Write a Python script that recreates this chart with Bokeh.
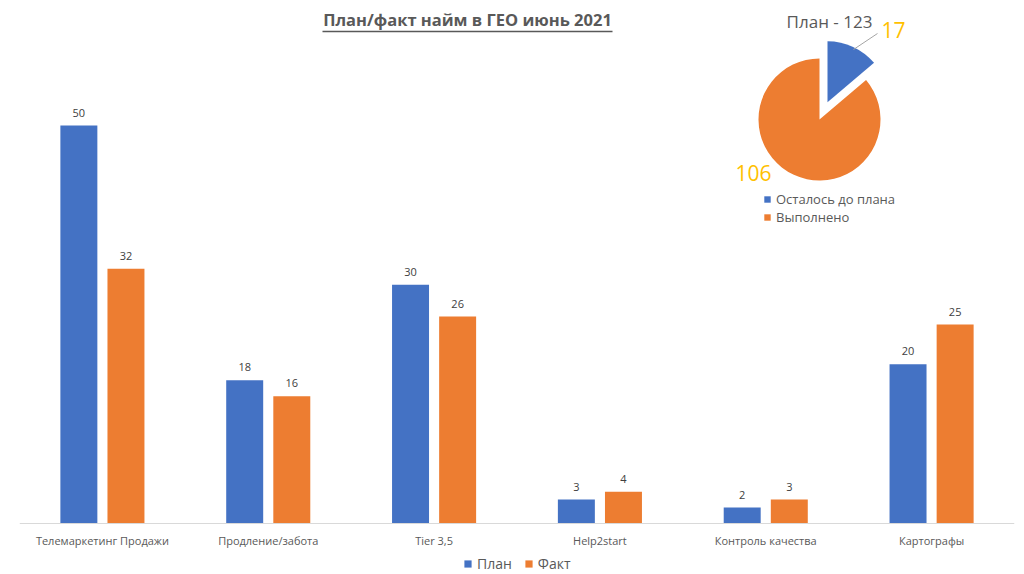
import math
from bokeh.plotting import figure
from bokeh.models import (FactorRange, Range1d, Legend, LegendItem, Label,
                          ColumnDataSource, LinearScale, CategoricalAxis)
from bokeh.transform import dodge
from bokeh.core.properties import value
from bokeh.embed import file_html
from bokeh.resources import INLINE

# ---------------- data ----------------
title = "План/факт найм в ГЕО июнь 2021"
categories = ["Телемаркетинг Продажи", "Продление/забота", "Tier 3,5",
              "Help2start", "Контроль качества", "Картографы"]
series = ["План", "Факт"]
plan = [50, 18, 30, 3, 2, 20]
fact = [32, 16, 26, 4, 3, 25]

pie_title = "План - 123"
pie_labels = ["Осталось до плана", "Выполнено"]
pie_values = [17, 106]

# ---------------- style ----------------
BLUE = "#4472C4"
ORANGE = "#ED7D31"
GOLD = "#FFC000"
GREY = "#595959"
DARK = "#404040"
FONT = "Open Sans"

W, H = 1024, 574
FRAME_L, FRAME_R = 19, 1014          # frame edges in page pixels
BASE = 523                           # baseline (value 0) in page pixels
UNIT = (FRAME_R - FRAME_L) / len(categories)
PX_PER_VAL = 7.96


def sx(px):
    """page-pixel x -> synthetic categorical coordinate (layout helper)"""
    return (px - FRAME_L) / UNIT


p = figure(width=W, height=H,
           x_range=FactorRange(factors=categories, range_padding=0),
           y_range=Range1d(-(H - BASE) / PX_PER_VAL, BASE / PX_PER_VAL),
           x_axis_location=None, y_axis_location=None,
           output_backend="svg", toolbar_location=None,
           min_border_left=FRAME_L, min_border_right=W - FRAME_R,
           min_border_top=0, min_border_bottom=0)
p.outline_line_color = None
p.grid.visible = False
p.background_fill_color = "white"
p.border_fill_color = "white"

# y helper range for decorations and the pie (y = -page px)
p.extra_y_ranges = {"py": Range1d(-H, 0)}
p.extra_y_scales = {"py": LinearScale()}

# ---------------- bars ----------------
src = ColumnDataSource(dict(cat=categories, plan=plan, fact=fact,
                            plan_t=[str(v) for v in plan],
                            fact_t=[str(v) for v in fact]))
off = 0.142
bw = 0.223
r_plan = p.vbar(x=dodge("cat", -off, range=p.x_range), top="plan", width=bw,
                source=src, fill_color=BLUE, line_color=None)
r_fact = p.vbar(x=dodge("cat", off, range=p.x_range), top="fact", width=bw,
                source=src, fill_color=ORANGE, line_color=None)

for col, txt, o in (("plan", "plan_t", -off), ("fact", "fact_t", off)):
    p.text(x=dodge("cat", o, range=p.x_range), y=col, text=txt, source=src,
           text_align="center", text_baseline="bottom", y_offset=-9,
           text_font=value(FONT), text_font_size="11px", text_color=DARK)

ax = CategoricalAxis(fixed_location=0)
ax.axis_line_color = "#D9D9D9"
ax.axis_line_width = 1
ax.major_tick_line_color = None
ax.minor_tick_line_color = None
ax.major_label_text_font = FONT
ax.major_label_text_font_size = "11px"
ax.major_label_text_color = GREY
ax.major_label_standoff = 3
p.add_layout(ax, "below")

leg = Legend(items=[LegendItem(label=series[0], renderers=[r_plan]),
                    LegendItem(label=series[1], renderers=[r_fact])],
             location=(444, 1), orientation="horizontal",
             label_text_font=FONT, label_text_font_size="14px",
             label_text_color=GREY, glyph_width=9, glyph_height=9,
             label_standoff=5, spacing=12, padding=0, margin=0,
             border_line_color=None, background_fill_alpha=0,
             label_height=14)
p.add_layout(leg)

# ---------------- title ----------------
p.add_layout(Label(x=sx(467), y=-19, y_range_name="py",
                   text=title, text_align="center", text_baseline="middle",
                   text_font=FONT, text_font_style="bold",
                   text_font_size="16.5px", text_color=GREY))
p.segment(x0=[sx(322)], y0=[-31], x1=[sx(612)], y1=[-31],
          y_range_name="py", line_color=GREY, line_width=1.3)

# ---------------- pie ----------------
total = sum(pie_values)
starts, ends, xs, ys = [], [], [], []
cx, cy, R = 819, -119, 61
explode = [19, 0]
acc = 0.0
for v, e in zip(pie_values, explode):
    a0 = math.pi / 2 - 2 * math.pi * acc / total
    a1 = math.pi / 2 - 2 * math.pi * (acc + v) / total
    mid = (a0 + a1) / 2
    starts.append(a0)
    ends.append(a1)
    xs.append(sx(cx + e * math.cos(mid)))
    ys.append(cy + e * math.sin(mid))
    acc += v
psrc = ColumnDataSource(dict(x=xs, y=ys, s=starts, e=ends,
                             c=[BLUE, ORANGE], lab=pie_labels))
wr = p.wedge(x="x", y="y", radius=R, radius_units="screen",
             start_angle="s", end_angle="e", direction="clock",
             fill_color="c", line_color=None, source=psrc,
             y_range_name="py")

p.add_layout(Label(x=sx(829), y=-21, y_range_name="py",
                   text=pie_title, text_align="center", text_baseline="middle",
                   text_font=FONT, text_font_size="17px", text_color=GREY))
p.segment(x0=[sx(853)], y0=[-49], x1=[sx(877)], y1=[-33],
          y_range_name="py", line_color="#A6A6A6", line_width=1)
p.add_layout(Label(x=sx(893), y=-29, y_range_name="py",
                   text=str(pie_values[0]), text_align="center",
                   text_baseline="middle", text_font=FONT,
                   text_font_size="21px", text_color=GOLD))
p.add_layout(Label(x=sx(753), y=-172, y_range_name="py",
                   text=str(pie_values[1]), text_align="center",
                   text_baseline="middle", text_font=FONT,
                   text_font_size="21px", text_color=GOLD))

pleg = Legend(items=[LegendItem(label=pie_labels[0], renderers=[wr], index=0),
                     LegendItem(label=pie_labels[1], renderers=[wr], index=1)],
              location=(744, H - 226), orientation="vertical",
              label_text_font=FONT, label_text_font_size="13px",
              label_text_color=GREY, glyph_width=8, glyph_height=8,
              label_standoff=5, spacing=0, padding=0, margin=0,
              border_line_color=None, background_fill_alpha=0,
              label_height=18)
p.add_layout(pleg)

open("out.html", "w").write(file_html(p, INLINE))
